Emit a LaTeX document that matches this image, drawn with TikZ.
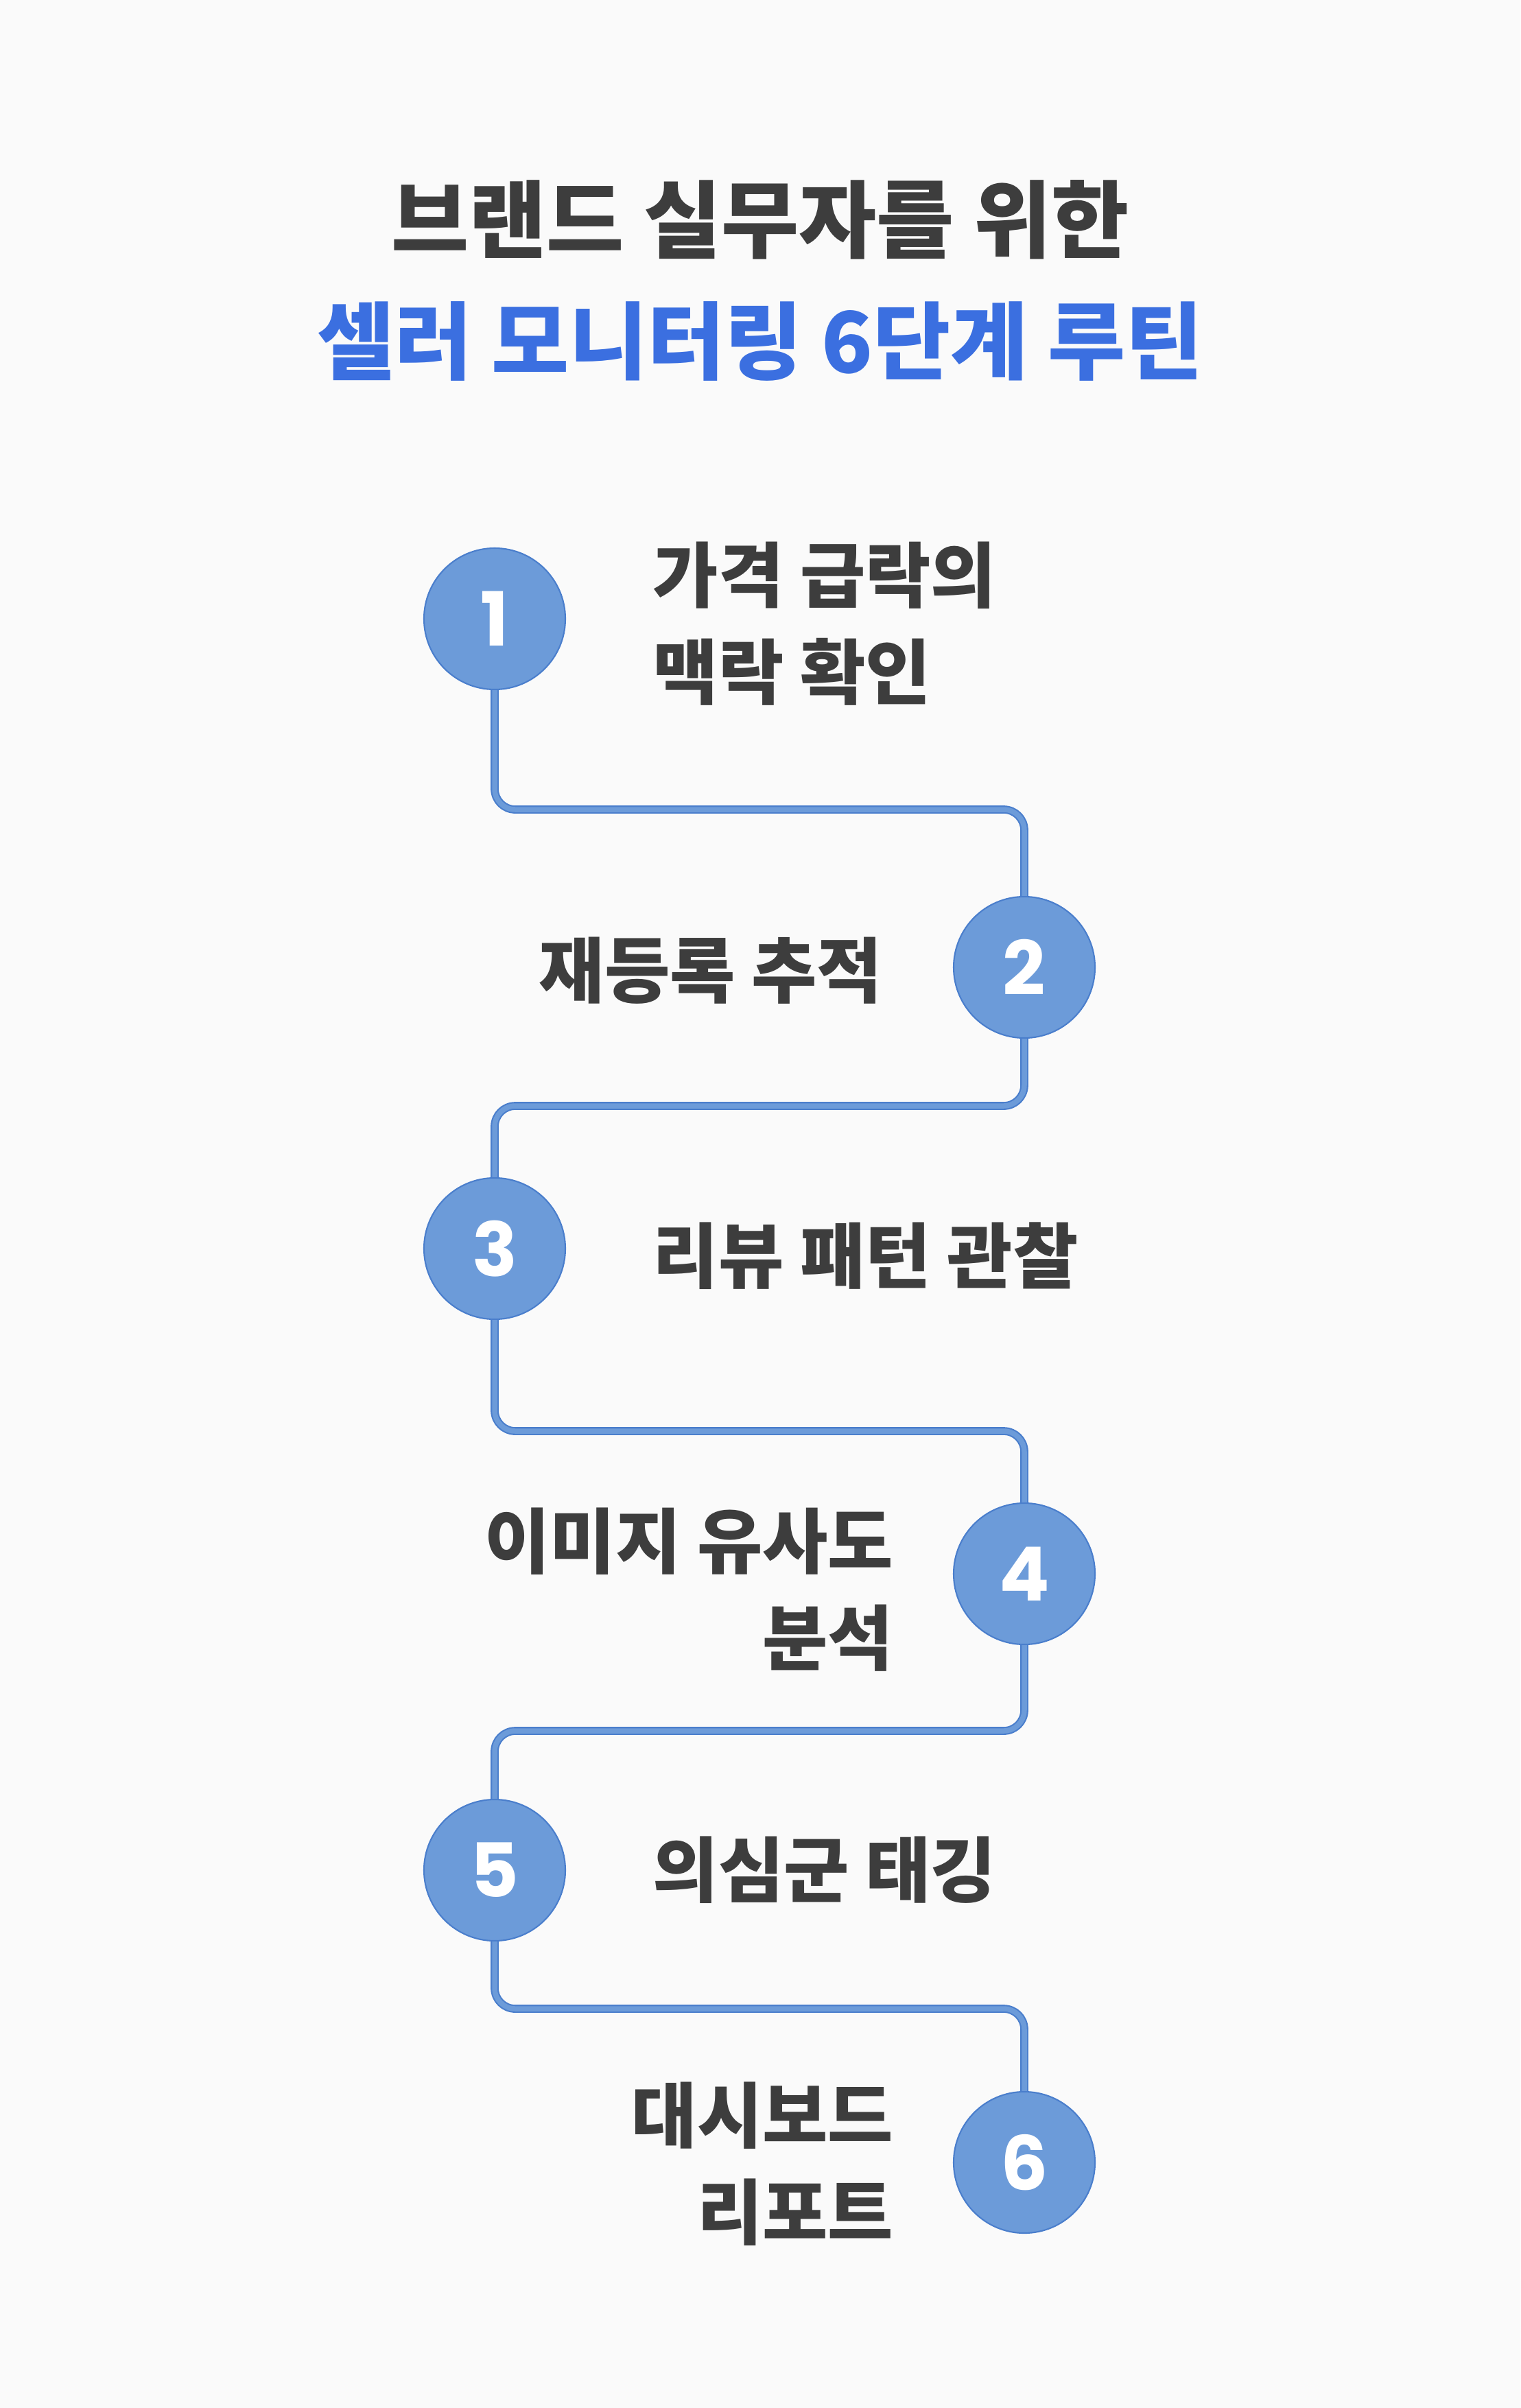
\documentclass[tikz,border=0pt]{standalone}
\usepackage{fontspec}
\setmainfont{Noto Sans CJK KR}
\newfontfamily\numfont{Poppins}
\usepackage{tikz}
\usetikzlibrary{positioning}
\definecolor{rtink}{RGB}{61,61,61}
\definecolor{rtblue}{RGB}{59,111,224}
\definecolor{rtdot}{RGB}{108,155,217}
\definecolor{rtedge}{RGB}{74,126,204}
\definecolor{rtpaper}{RGB}{250,250,250}

\begin{document}
\begin{tikzpicture}[
        stepdot/.style={circle, fill=rtdot, draw=rtedge, line width=0.6pt, minimum size=2.06cm, inner sep=0pt,
          text=white, font=\numfont\bfseries\fontsize{31}{31}\selectfont},
        steptext/.style={text=rtink, font=\bfseries\fontsize{29.5}{40}\selectfont, inner sep=0pt},
        trail/.style={draw=rtedge, line width=0.6pt, double=rtdot, double distance=0.075cm, rounded corners=0.3cm}
      ]
      \useasboundingbox (0,0) rectangle (22.16,-35.10);
      \fill[rtpaper] (0,0) rectangle (22.16,-35.10);
      % title
      \node[text=rtink, font=\bfseries\fontsize{35}{35}\selectfont] (head) at (11.08,-3.20) {브랜드 실무자를 위한};
      \node[text=rtblue, font=\bfseries\fontsize{35}{35}\selectfont] (sub) at (11.08,-4.97) {셀러 모니터링 6단계 루틴};
      % steps
      \node[stepdot] (c1) at (7.21,-9.02) {1};
      \node[stepdot] (c2) at (14.93,-14.10) {2};
      \node[stepdot] (c3) at (7.21,-18.20) {3};
      \node[stepdot] (c4) at (14.93,-22.94) {4};
      \node[stepdot] (c5) at (7.21,-27.26) {5};
      \node[stepdot] (c6) at (14.93,-31.52) {6};
      \node[steptext, anchor=west, align=left] (t1) at (9.51,-9.09) {가격 급락의\\맥락 확인};
      \node[steptext, anchor=east, align=right] (t2) at (12.87,-14.15) {재등록 추적};
      \node[steptext, anchor=west, align=left] (t3) at (9.51,-18.31) {리뷰 패턴 관찰};
      \node[steptext, anchor=east, align=right] (t4) at (13.03,-23.17) {이미지 유사도\\분석};
      \node[steptext, anchor=west, align=left] (t5) at (9.51,-27.26) {의심군 태깅};
      \node[steptext, anchor=east, align=right] (t6) at (13.03,-31.54) {대시보드\\리포트};
      % connectors
      \coordinate (h1) at (0,-11.80);
      \coordinate (h2) at (0,-16.12);
      \coordinate (h3) at (0,-20.86);
      \coordinate (h4) at (0,-25.23);
      \coordinate (h5) at (0,-29.28);
      \draw[trail] (c1.south) |- (h1 -| c2) -- (c2.north);
      \draw[trail] (c2.south) |- (h2 -| c3) -- (c3.north);
      \draw[trail] (c3.south) |- (h3 -| c4) -- (c4.north);
      \draw[trail] (c4.south) |- (h4 -| c5) -- (c5.north);
      \draw[trail] (c5.south) |- (h5 -| c6) -- (c6.north);
    \end{tikzpicture}
\end{document}
